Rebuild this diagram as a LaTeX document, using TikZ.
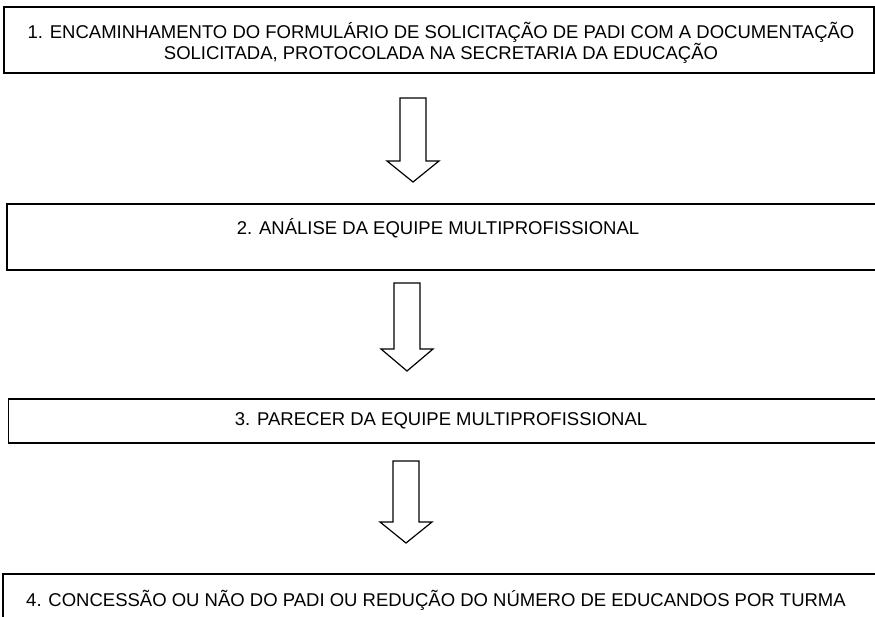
\documentclass[tikz,border=0pt]{standalone}
\usepackage{fontspec}
\setmainfont{Liberation Sans}
\begin{document}
\begin{tikzpicture}[x=1pt,y=-1pt]
            \useasboundingbox (0,0) rectangle (875,617);
            \clip (0,0) rectangle (875,617);
            \begin{scope}[every node/.style={font=\fontsize{18.5}{20}\selectfont, align=center, inner sep=0pt}]

                \node (step1) at (441,43) {1. ENCAMINHAMENTO DO FORMULÁRIO DE SOLICITAÇÃO DE PADI COM A DOCUMENTAÇÃO\\SOLICITADA, PROTOCOLADA NA SECRETARIA DA EDUCAÇÃO};
                \node (step2) at (438,228) {2. ANÁLISE DA EQUIPE MULTIPROFISSIONAL};
                \node (step3) at (441,421) {3. PARECER DA EQUIPE MULTIPROFISSIONAL};
                \node (step4) at (436,600) {4. CONCESSÃO OU NÃO DO PADI OU REDUÇÃO DO NÚMERO DE EDUCANDOS POR TURMA};
            \end{scope}
            \path[draw, line width=1.6pt] (4,7) rectangle (874,73);
            \path[draw, line width=1.6pt] (7,204) rectangle (885,270);
            \path[draw, line width=1.6pt] (8.5,399) rectangle (885,443);
            \path[draw, line width=1.6pt] (3,574) rectangle (885,630);

            \foreach \x/\t/\b/\p in {413/98/161/182, 407/283/349/371, 406/461/522/543}
                \path[draw, line width=1.2pt] (\x-13,\t) -- (\x+13,\t) -- (\x+13,\b) -- (\x+26,\b)
                    -- (\x,\p) -- (\x-26,\b) -- (\x-13,\b) -- cycle;
        \end{tikzpicture}
\end{document}
